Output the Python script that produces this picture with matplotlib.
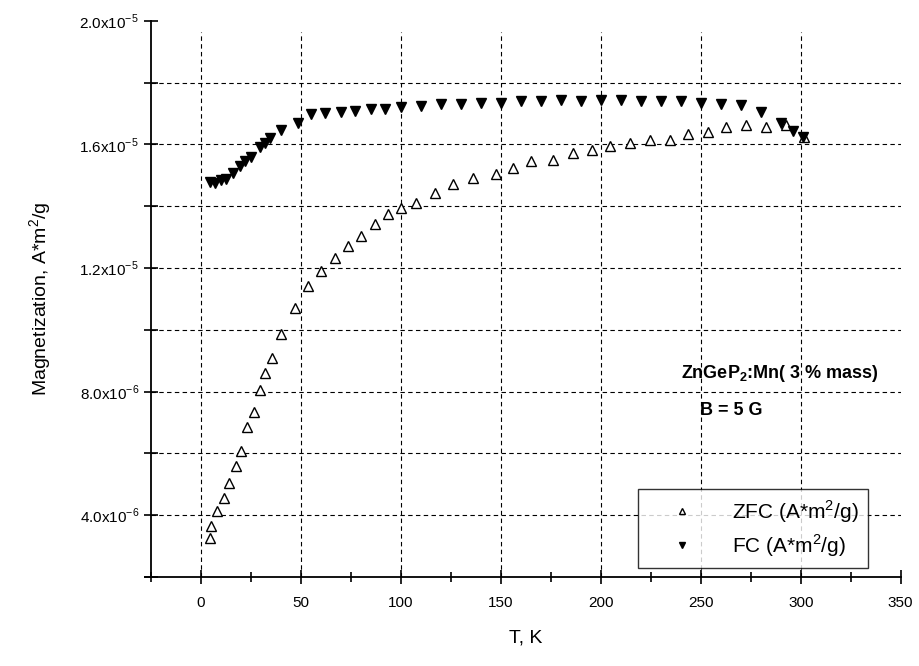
import matplotlib
matplotlib.use('Agg')
import matplotlib.pyplot as plt
import numpy as np

plt.rcParams['font.family'] = ['Liberation Sans', 'DejaVu Sans']
plt.rcParams['mathtext.fontset'] = 'custom'
plt.rcParams['mathtext.rm'] = 'Liberation Sans'
plt.rcParams['mathtext.bf'] = 'Liberation Sans:bold'

# ZFC curve (T in K, magnetization in units of 1e-5 A*m^2/g)
t_zfc = [4.5, 5.3, 8.3, 11.5, 14.2, 17.5, 20.0, 23.2, 26.5, 29.5, 32.3, 35.5,
         40.2, 47.0, 53.7, 60.3, 67.0, 73.7, 80.3, 87.0, 93.7, 100.3, 107.5,
         117.0, 126.2, 136.2, 147.5, 156.2, 165.3, 176.2, 186.2, 195.8, 204.8,
         214.8, 224.5, 234.8, 243.7, 253.7, 262.8, 272.8, 282.8, 292.8, 301.5]
m_zfc = [0.327, 0.364, 0.415, 0.455, 0.504, 0.558, 0.609, 0.684, 0.735, 0.806,
         0.860, 0.908, 0.987, 1.070, 1.143, 1.192, 1.232, 1.272, 1.304, 1.342,
         1.374, 1.394, 1.412, 1.442, 1.473, 1.491, 1.505, 1.523, 1.545, 1.550,
         1.572, 1.583, 1.596, 1.604, 1.613, 1.613, 1.634, 1.642, 1.656, 1.663,
         1.656, 1.663, 1.625]

# FC curve
t_fc = [4.5, 7.0, 10.3, 12.8, 16.2, 19.5, 22.0, 25.3, 29.5, 32.0, 34.5, 40.3,
        48.7, 55, 62, 70, 77, 85, 92, 100, 110, 120, 130, 140, 150, 160, 170,
        180, 190, 200, 210, 220, 230, 240, 250, 260, 270, 280, 290, 296, 301]
m_fc = [1.480, 1.475, 1.485, 1.488, 1.509, 1.531, 1.545, 1.561, 1.593, 1.606,
        1.620, 1.647, 1.671, 1.698, 1.702, 1.706, 1.710, 1.714, 1.714, 1.722,
        1.726, 1.730, 1.730, 1.735, 1.735, 1.740, 1.740, 1.745, 1.740, 1.745,
        1.745, 1.740, 1.740, 1.740, 1.735, 1.732, 1.727, 1.705, 1.668, 1.645,
        1.625]

x_major = [0, 50, 100, 150, 200, 250, 300, 350]
x_grid = [0, 50, 100, 150, 200, 250, 300]
y_ticks = [0.2, 0.4, 0.6, 0.8, 1.0, 1.2, 1.4, 1.6, 1.8, 2.0]
y_labels = ['', '4.0x10$^{-6}$', '', '8.0x10$^{-6}$', '', '1.2x10$^{-5}$', '',
            '1.6x10$^{-5}$', '', '2.0x10$^{-5}$']
y_grid = [0.4, 0.6, 0.8, 1.0, 1.2, 1.4, 1.6, 1.8]

fig = plt.figure(figsize=(9.2, 6.66), dpi=100)
ax = fig.add_axes([0.164, 0.1336, 0.815, 0.835])

grid_style = dict(color='black', lw=0.8, ls=(0, (4, 3)), zorder=1)
for xv in x_grid:
    ax.axvline(xv, ymax=0.98, **grid_style)
for yv in y_grid:
    ax.axhline(yv, **grid_style)

ax.plot(t_zfc, m_zfc, ls='none', marker='^', ms=6.5, mfc='white', mec='black',
        mew=1.0, label='ZFC (A*m$^2$/g)', zorder=3)
ax.plot(t_fc, m_fc, ls='none', marker='v', ms=6.5, mfc='black', mec='black',
        mew=1.0, label='FC (A*m$^2$/g)', zorder=3)

ax.set_xlim(-25, 350)
ax.set_ylim(0.2, 2.0)
ax.spines['top'].set_visible(False)
ax.spines['right'].set_visible(False)
ax.spines['left'].set_linewidth(1.3)
ax.spines['bottom'].set_linewidth(1.3)
ax.spines['bottom'].set_bounds(-28, 350)
ax.spines['bottom'].set_clip_on(False)

ax.set_xticks(x_major)
ax.set_xticks(np.arange(-25, 350, 50), minor=True)
ax.set_yticks(y_ticks)
ax.set_yticklabels(y_labels)
ax.tick_params(axis='both', which='major', direction='inout', length=10,
               width=1.2, labelsize=11)
ax.tick_params(axis='x', which='minor', direction='inout', length=7, width=1.2)
ax.tick_params(axis='x', pad=9)

ax.set_xlabel('T, K', fontsize=14, labelpad=14)
ax.set_ylabel('Magnetization, A*m$^2$/g', fontsize=14, labelpad=18)

ax.text(240, 0.86, 'ZnGeP$_\\mathbf{2}$:Mn( 3 % mass)', fontsize=13,
        fontweight='bold', va='center', ha='left')
ax.text(249.5, 0.74, 'B = 5 G', fontsize=13, fontweight='bold',
        va='center', ha='left')

leg = ax.legend(loc='lower right', bbox_to_anchor=(0.957, 0.016), fontsize=15,
                frameon=True, fancybox=False, edgecolor='black',
                borderpad=0.45, handletextpad=0.7, labelspacing=0.35,
                handlelength=3.4, markerscale=0.75, borderaxespad=0)
leg.get_frame().set_linewidth(1.0)
leg.set_zorder(5)

fig.savefig('out.png', dpi=100)
